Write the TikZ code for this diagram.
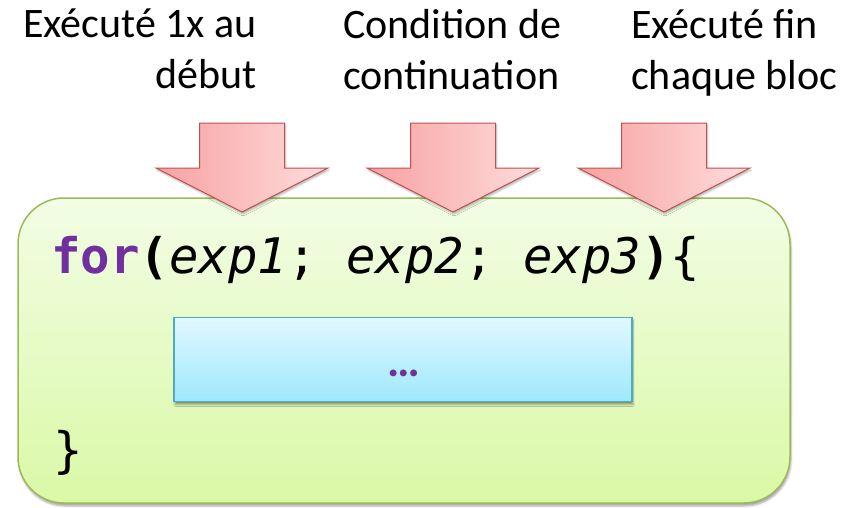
\documentclass[tikz,border=0pt]{standalone}
\usepackage{fontspec}
\setmainfont{Carlito}
\newfontfamily\codefont{DejaVu Sans Mono}[ItalicFont={DejaVu Sans Mono Oblique}, BoldFont={DejaVu Sans Mono Bold}]
\usetikzlibrary{shadows.blur}
\definecolor{loopline}{HTML}{9BBB59}
\definecolor{looptop}{HTML}{F2FDE5}
\definecolor{loopbot}{HTML}{DAF9A6}
\definecolor{bodyline}{HTML}{4BACC6}
\definecolor{bodytop}{HTML}{E2F8FF}
\definecolor{bodybot}{HTML}{9EE8FB}
\definecolor{arrline}{HTML}{C0504D}
\definecolor{arrdark}{HTML}{F7A1A1}
\definecolor{arrlight}{HTML}{FFDCDC}
\definecolor{kw}{HTML}{7030A0}
\tikzset{loopbox/.style = {draw = loopline, line width = 1.5pt, rounded corners = 46pt,
                           top color = looptop, bottom color = loopbot,
                           minimum width = 772pt, minimum height = 305pt, inner sep = 0,
                           blur shadow = {shadow xshift = 1pt, shadow yshift = -3pt, shadow opacity = 35}}}
\tikzset{bodybox/.style = {draw = bodyline, line width = 1.5pt,
                           top color = bodytop, bottom color = bodybot,
                           minimum width = 458pt, minimum height = 84pt, inner sep = 0,
                           blur shadow = {shadow xshift = 1pt, shadow yshift = -3pt, shadow opacity = 40}}}
\tikzset{bigarrow/.style = {draw = arrline, line width = 1pt, left color = arrdark, right color = arrlight,
                            blur shadow = {shadow xshift = 1pt, shadow yshift = -2pt, shadow opacity = 30}}}
\tikzset{lbl/.style = {inner sep = 0, font = \fontsize{42}{51}\selectfont}}
\tikzset{code/.style = {inner sep = 0, font = \codefont\fontsize{49}{58}\selectfont}}

\begin{document}
\begin{tikzpicture}[x = 1pt, y = -1pt]
  \useasboundingbox (0, 0) rectangle (848, 507);
  % loop frame and its body
  \node [loopbox] (loop) at (404, 350.5) {};
  \node [bodybox] (body) at (403, 359.5) {};
  \node [inner sep = 0, text = kw, font = \fontsize{46}{46}\selectfont\bfseries] (dots) at (404, 373) {\textellipsis};
  % the three parts of the header
  \foreach \x in {242, 453, 664}
    \shadedraw [bigarrow] (\x - 42.5, 123) -- (\x + 42.5, 123) -- (\x + 42.5, 168) -- (\x + 86, 168)
      -- (\x, 212) -- (\x - 86, 168) -- (\x - 42.5, 168) -- cycle;
  \node [lbl, align = right, anchor = north east] (init) at (257, 9) {Exécuté 1x au\\début};
  \node [lbl, align = left, anchor = north west] (cond) at (343, 9) {Condition de\\continuation};
  \node [lbl, align = left, anchor = north west] (step3) at (631, 9) {Exécuté fin\\chaque bloc};
  % code text
  \node [code, anchor = base west] (head) at (51, 273)
    {\textcolor{kw}{\bfseries for}\textbf{(}\textit{exp1}; \textit{exp2}; \textit{exp3}\textbf{)}\{};
  \node [code, anchor = base west] (close) at (53, 467) {\}};
\end{tikzpicture}
\end{document}
